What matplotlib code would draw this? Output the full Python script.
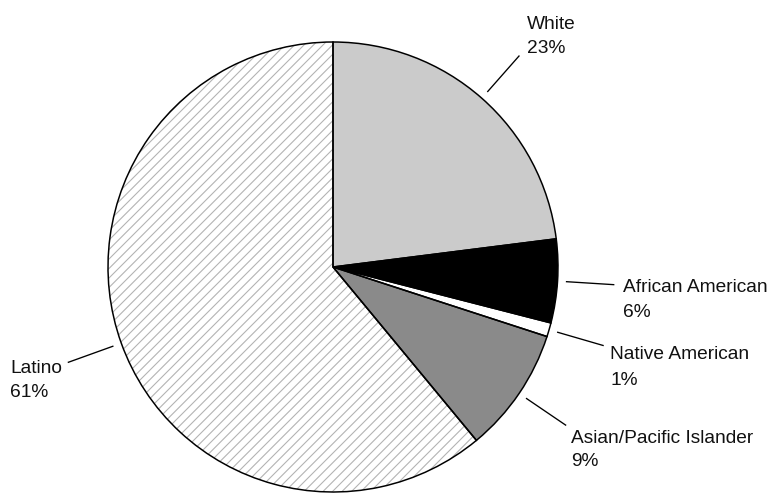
import numpy as np
import matplotlib
matplotlib.use("Agg")
import matplotlib.pyplot as plt
from matplotlib.collections import LineCollection

# ---- data ----
categories = ["White", "African American", "Native American",
              "Asian/Pacific Islander", "Latino"]
shares = [23, 6, 1, 9, 61]
pct_labels = ["23%", "6%", "1%", "9%", "61%"]

# ---- styles / layout ----
face_colors = ["#cbcbcb", "#000000", "#ffffff", "#8a8a8a", "#ffffff"]
hatched = [False, False, False, False, True]
# label text anchors (left x, baseline of first line, baseline of second line) in pixels
label_pos = [(527, 29, 53), (623, 292, 317), (610, 359, 385),
             (571, 443, 466), (10, 373, 397)]

W, H, DPI = 769, 493, 120
plt.rcParams["font.family"] = ["Liberation Sans", "DejaVu Sans"]

fig = plt.figure(figsize=(W / DPI, H / DPI), dpi=DPI)
ax = fig.add_axes([0, 0, 1, 1])

cx, cy_pix, r = 333, 267, 225
cy = H - cy_pix

# fill pass
wedges, _ = ax.pie(shares, colors=face_colors, startangle=90, counterclock=False,
                   center=(cx, cy), radius=r,
                   wedgeprops=dict(linewidth=0, edgecolor="none"))

# manual diagonal hatching (clipped to the wedge)
spacing = 9.5
for w, h in zip(wedges, hatched):
    if not h:
        continue
    segs = []
    for c in np.arange(-H - W, W + H, spacing):
        segs.append([(-10, -10 + c), (W + 10, W + 10 + c)])
    lc = LineCollection(segs, colors="#b2b2b2", linewidths=0.65, zorder=w.get_zorder() + 0.1)
    ax.add_collection(lc)
    lc.set_clip_path(w)

# outline pass
outl, _ = ax.pie(shares, colors=["none"] * len(shares), startangle=90,
                 counterclock=False, center=(cx, cy), radius=r,
                 wedgeprops=dict(linewidth=0.9, edgecolor="black", fill=False))
for o in outl:
    o.set_zorder(5)

# leader lines and labels
total = float(sum(shares))
start = 90.0
for i, (cat, s) in enumerate(zip(categories, shares)):
    span = 360.0 * s / total
    mid = np.deg2rad(start - span / 2)
    start -= span
    x0, y0 = cx + 1.04 * r * np.cos(mid), cy + 1.04 * r * np.sin(mid)
    x1, y1 = cx + 1.25 * r * np.cos(mid), cy + 1.25 * r * np.sin(mid)
    ax.plot([x0, x1], [y0, y1], color="black", linewidth=0.8)
    lx, b1, b2 = label_pos[i]
    ax.text(lx, H - b1, cat, ha="left", va="baseline", fontsize=11.5, color="#111111")
    ax.text(lx, H - b2, pct_labels[i], ha="left", va="baseline", fontsize=11.5,
            color="#111111")

ax.set_xlim(0, W)
ax.set_ylim(0, H)
ax.set_aspect("equal")
ax.set_axis_off()

fig.savefig("out.png", dpi=DPI, facecolor="white")
